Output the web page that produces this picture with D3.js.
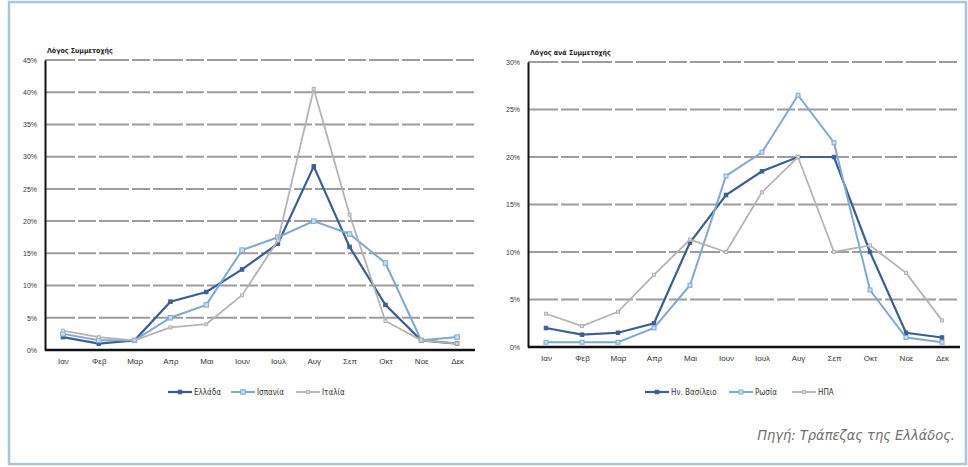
<!DOCTYPE html>
<html>
<head>
<meta charset="utf-8">
<script src="https://cdn.jsdelivr.net/npm/d3@7"></script>
<style>
  body { margin: 0; background: #fff; }
  svg { display: block; font-family: "Liberation Sans Narrow", "DejaVu Sans Condensed", "Liberation Sans", sans-serif; }
</style>
</head>
<body>
<div id="chart"></div>
<script>
// Μήνες
const months = ['Ιαν', 'Φεβ', 'Μαρ', 'Απρ', 'Μαι', 'Ιουν', 'Ιουλ', 'Αυγ', 'Σεπ', 'Οκτ', 'Νοε', 'Δεκ'];

// Αριστερό γράφημα (%)
const leftTicks = [0, 5, 10, 15, 20, 25, 30, 35, 40, 45];
const greece = [2, 1, 1.5, 7.5, 9, 12.5, 16.5, 28.5, 16, 7, 1.5, 1];
const spain = [2.5, 1.5, 1.5, 5, 7, 15.5, 17.5, 20, 18, 13.5, 1.5, 2];
const italy = [3, 2, 1.5, 3.5, 4, 8.5, 17, 40.5, 21, 4.5, 1.5, 1];

// Δεξί γράφημα (%)
const rightTicks = [0, 5, 10, 15, 20, 25, 30];
const uk = [2, 1.3, 1.5, 2.5, 11, 16, 18.5, 20, 20, 10, 1.5, 1];
const russia = [0.5, 0.5, 0.5, 2, 6.5, 18, 20.5, 26.5, 21.5, 6, 1, 0.5];
const usa = [3.5, 2.2, 3.7, 7.6, 11.3, 10, 16.3, 20, 10, 10.7, 7.8, 2.8];

const W = 968, H = 467;
const colors = { dark: '#3c5f93', light: '#7fa9d4', grey: '#b4b4b4' };

const svg = d3.select('#chart').append('svg').attr('width', W).attr('height', H);

// Πλαίσιο
svg.append('rect')
    .attr('x', 9).attr('y', 2).attr('width', 957).attr('height', 462)
    .attr('fill', 'none').attr('stroke', '#a9c5de').attr('stroke-width', 2.5);

function drawChart(cfg) {
    const x = d3.scalePoint().domain(months).range([cfg.x0, cfg.x1]).padding(0.5);
    const y = d3.scaleLinear().domain([0, cfg.max]).range([cfg.y0, cfg.y1]);
    const g = svg.append('g');

    // Γραμμές πλέγματος
    g.selectAll('.grid').data(cfg.ticks.filter(t => t > 0)).enter().append('line')
        .attr('x1', cfg.x0).attr('x2', cfg.x1)
        .attr('y1', d => y(d)).attr('y2', d => y(d))
        .attr('stroke', '#9c9c9c').attr('stroke-width', 2)
        .attr('stroke-dasharray', '30,3,18,3');

    // Άξονας Y
    const yAxis = g.append('g')
        .attr('transform', `translate(${cfg.x0},0)`)
        .call(d3.axisLeft(y).tickValues(cfg.ticks).tickSize(0).tickPadding(8).tickFormat(d => d + '%'));
    yAxis.select('.domain').attr('stroke', '#111').attr('stroke-width', 2);
    yAxis.selectAll('text').style('font-size', '7px').attr('fill', '#333');

    // Άξονας X
    const xAxis = g.append('g')
        .attr('transform', `translate(0,${cfg.y0})`)
        .call(d3.axisBottom(x).tickSize(0).tickPadding(8));
    xAxis.select('.domain').attr('stroke', '#111').attr('stroke-width', 2.5)
        .attr('d', `M${cfg.x0},0H${cfg.x1}`);
    xAxis.selectAll('text').style('font-size', '8px').attr('fill', '#333');

    // Τίτλος άξονα
    g.append('text')
        .attr('x', cfg.x0 + 2).attr('y', cfg.y1 - 7)
        .style('font-size', '7px').style('font-weight', 'bold').attr('fill', '#222')
        .text(cfg.title);

    const line = d3.line().x((d, i) => x(months[i])).y(d => y(d));

    cfg.series.forEach(s => {
        g.append('path').datum(s.values)
            .attr('d', line).attr('fill', 'none')
            .attr('stroke', s.color).attr('stroke-width', s.width);
        g.selectAll(null).data(s.values).enter().append('rect')
            .attr('x', (d, i) => x(months[i]) - s.size / 2)
            .attr('y', d => y(d) - s.size / 2)
            .attr('width', s.size).attr('height', s.size)
            .attr('fill', s.fill).attr('stroke', s.color).attr('stroke-width', 1);
    });

    // Υπόμνημα
    const legend = g.append('g').attr('transform', `translate(0,${cfg.legendY})`);
    cfg.series.forEach((s, i) => {
        const lx = cfg.legendX[i];
        legend.append('line')
            .attr('x1', lx).attr('x2', lx + 24).attr('y1', 0).attr('y2', 0)
            .attr('stroke', s.color).attr('stroke-width', s.width);
        legend.append('rect')
            .attr('x', lx + 12 - s.size / 2).attr('y', -s.size / 2)
            .attr('width', s.size).attr('height', s.size)
            .attr('fill', s.fill).attr('stroke', s.color);
        legend.append('text')
            .attr('x', lx + 26).attr('y', 3)
            .style('font-size', '8px').attr('fill', '#333')
            .text(s.name);
    });
}

drawChart({
    x0: 45, x1: 475, y0: 350, y1: 60, max: 45, ticks: leftTicks,
    title: 'Λόγος Συμμετοχής',
    legendY: 392, legendX: [168, 231, 296],
    series: [
        { name: 'Ελλάδα', values: greece, color: colors.dark, fill: colors.dark, width: 2.2, size: 3.5 },
        { name: 'Ισπανία', values: spain, color: colors.light, fill: '#c9dcee', width: 2, size: 4.5 },
        { name: 'Ιταλία', values: italy, color: colors.grey, fill: '#dddddd', width: 1.8, size: 3 }
    ]
});

drawChart({
    x0: 528, x1: 960, y0: 347, y1: 62, max: 30, ticks: rightTicks,
    title: 'Λόγος ανά Συμμετοχής',
    legendY: 392, legendX: [645, 729, 792],
    series: [
        { name: 'Ην. Βασίλειο', values: uk, color: colors.dark, fill: colors.dark, width: 2.2, size: 3.5 },
        { name: 'Ρωσία', values: russia, color: colors.light, fill: '#c9dcee', width: 2, size: 4 },
        { name: 'ΗΠΑ', values: usa, color: colors.grey, fill: '#dddddd', width: 1.8, size: 3 }
    ]
});

// Πηγή
svg.append('text')
    .attr('x', 955).attr('y', 440)
    .attr('text-anchor', 'end')
    .style('font-size', '14.5px').style('font-style', 'italic')
    .attr('fill', '#6f6f6f')
    .text('Πηγή: Τράπεζας της Ελλάδος.');
</script>
</body>
</html>
